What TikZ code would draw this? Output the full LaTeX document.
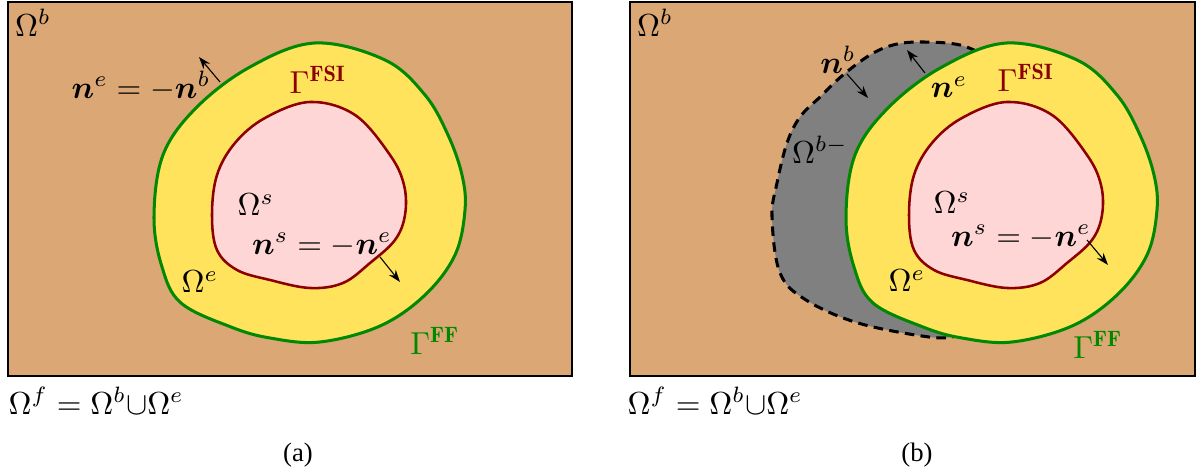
\documentclass[tikz,border=0pt]{standalone}
\usepackage{amsmath,amssymb}
\usepackage{fontspec}
\newfontfamily\capfont{Liberation Serif}
\usepackage{tikz}
\usepackage{xcolor}
\usetikzlibrary{arrows.meta}
\definecolor{soil}{RGB}{219,168,117}
\definecolor{layer}{RGB}{255,227,92}
\definecolor{solidpink}{RGB}{255,214,214}
\definecolor{ffgreen}{RGB}{0,136,0}
\definecolor{fsired}{RGB}{140,0,0}

\begin{document}
\begin{tikzpicture}[x=0.01106cm,y=-0.01106cm,
  panel/.style={draw=black,line width=0.5pt,fill=soil},
  ffline/.style={draw=ffgreen,line width=0.95pt,fill=layer},
  fsiline/.style={draw=fsired,line width=0.8pt,fill=solidpink},
  holeline/.style={draw=black,line width=0.95pt,dash pattern=on 3pt off 2pt},
  normal/.style={-{Stealth[length=1.35mm,width=0.95mm]},line width=0.35pt,draw=black},
  lbl/.style={inner sep=0pt},
  captext/.style={inner sep=0pt,font=\capfont\fontsize{8.4}{10}\selectfont}
]
\useasboundingbox (0,0) rectangle (1203,473);

% (a)
\draw[panel] (8,2) rectangle (572,376);
\draw[ffline] plot[smooth cycle,tension=0.6] coordinates {(315,43) (385,60) (425,95) (448,135) (462,175) (465,210) (455,255) (425,295) (380,326) (320,342) (270,338) (231,327) (181,303) (162,267) (154,217) (163,155) (196,108) (250,67)};
\draw[fsiline] plot[smooth cycle,tension=0.6] coordinates {(310,102) (355,115) (390,155) (404,185) (405,215) (395,240) (370,263) (343,283) (310,288) (270,280) (237,270) (217,250) (212,215) (217,175) (235,143) (265,118)};

\coordinate (a-ne-tail) at (220,82);
\coordinate (a-ne-head) at (199,57);
\coordinate (a-ns-tail) at (380,257);
\coordinate (a-ns-head) at (400,282);
\draw[normal] (a-ne-tail) -- (a-ne-head);
\draw[normal] (a-ns-tail) -- (a-ns-head);

\node[lbl] (a-ob) at (33,23) {$\Omega^b$};
\node[lbl] (a-ne) at (141,86) {$\boldsymbol{n}^e=-\boldsymbol{n}^b$};
\node[lbl,text=fsired] (a-fsi) at (318,80) {$\Gamma^{\mathbf{FSI}}$};
\node[lbl] (a-os) at (256,205) {$\Omega^s$};
\node[lbl] (a-ns) at (322,245) {$\boldsymbol{n}^s=-\boldsymbol{n}^e$};
\node[lbl] (a-oe) at (200,282) {$\Omega^e$};
\node[lbl,text=ffgreen] (a-ff) at (435,341) {$\Gamma^{\mathbf{FF}}$};
\node[lbl,anchor=west] (a-of) at (8,401) {$\Omega^f=\Omega^b{\cup}\Omega^e$};
\node[captext] (a-cap) at (298,455) {(a)};

% (b)
\draw[panel] (630,2) rectangle (1195,376);
\fill[gray] plot[smooth,tension=0.6] coordinates {(990,58) (960,45) (920,42) (893,45) (870,55) (843,75) (820,97) (800,117) (787,143) (777,183) (772,217) (780,273) (806,300) (858,323) (929,337) (958,336) (985,330)} -- (1000,200) -- cycle;
\draw[holeline] plot[smooth,tension=0.6] coordinates {(990,58) (960,45) (920,42) (893,45) (870,55) (843,75) (820,97) (800,117) (787,143) (777,183) (772,217) (780,273) (806,300) (858,323) (929,337) (958,336) (985,330)};
\begin{scope}[shift={(692,0)}]
\draw[ffline] plot[smooth cycle,tension=0.6] coordinates {(315,43) (385,60) (425,95) (448,135) (462,175) (465,210) (455,255) (425,295) (380,326) (320,342) (270,338) (231,327) (181,303) (162,267) (154,217) (163,155) (196,108) (250,67)};
\end{scope}
\begin{scope}[shift={(697,0)}]
\draw[fsiline] plot[smooth cycle,tension=0.6] coordinates {(310,102) (355,115) (390,155) (404,185) (405,215) (395,240) (370,263) (343,283) (310,288) (270,280) (237,270) (217,250) (212,215) (217,175) (235,143) (265,118)};
\end{scope}

\coordinate (b-nb-tail) at (847,74);
\coordinate (b-nb-head) at (868,98);
\coordinate (b-ne-tail) at (925,73);
\coordinate (b-ne-head) at (907,50);
\coordinate (b-ns-tail) at (1087,240);
\coordinate (b-ns-head) at (1108,265);
\draw[normal] (b-nb-tail) -- (b-nb-head);
\draw[normal] (b-ne-tail) -- (b-ne-head);
\draw[normal] (b-ns-tail) -- (b-ns-head);

\node[lbl] (b-ob) at (655,23) {$\Omega^b$};
\node[lbl] (b-nb) at (838,60) {$\boldsymbol{n}^b$};
\node[lbl] (b-ne) at (949,87) {$\boldsymbol{n}^e$};
\node[lbl] (b-obm) at (820,150) {$\Omega^{b-}$};
\node[lbl,text=fsired] (b-fsi) at (1026,78) {$\Gamma^{\mathbf{FSI}}$};
\node[lbl] (b-os) at (952,203) {$\Omega^s$};
\node[lbl] (b-ns) at (1021,237) {$\boldsymbol{n}^s=-\boldsymbol{n}^e$};
\node[lbl] (b-oe) at (907,281) {$\Omega^e$};
\node[lbl,text=ffgreen] (b-ff) at (1098,345) {$\Gamma^{\mathbf{FF}}$};
\node[lbl,anchor=west] (b-of) at (627,401) {$\Omega^f=\Omega^b{\cup}\Omega^e$};
\node[captext] (b-cap) at (917,455) {(b)};
\end{tikzpicture}
\end{document}
